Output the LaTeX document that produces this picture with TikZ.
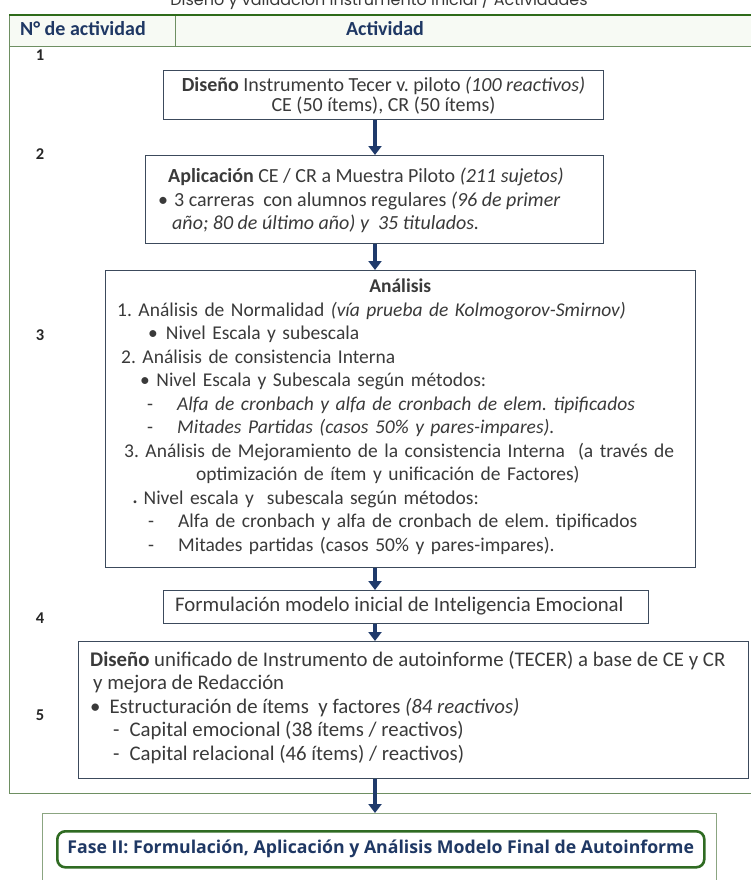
\documentclass[tikz,border=0pt]{standalone}
\usepackage{fontspec}
\setmainfont{Carlito}
\newfontfamily\titlefont{Poppins}
\newfontfamily\fasefont{Open Sans}
\usetikzlibrary{arrows.meta}
\definecolor{txt}{HTML}{3A3A3A}
\definecolor{navy}{HTML}{1F3864}
\definecolor{arrowblue}{HTML}{1F3A6B}
\definecolor{topgreen}{HTML}{2E6B1A}
\definecolor{gridgreen}{HTML}{6E8F62}
\definecolor{boxline}{HTML}{3C4A5C}
\definecolor{headfill}{HTML}{F7FAF4}
\definecolor{fasegreen}{HTML}{2F6B22}
\tikzset{
  box/.style={draw=boxline, line width=1.1pt, fill=white, inner sep=0pt, anchor=north west},
  boxtext/.style={anchor=north west, inner sep=0pt, text=txt, align=left,
    font=\frenchspacing\fontsize{20}{23.5}\selectfont},
  hdr/.style={font=\bfseries\fontsize{20}{22}\selectfont, text=navy, inner sep=0pt},
  num/.style={font=\bfseries\fontsize{16.5}{18}\selectfont, text=black!85, inner sep=0pt, anchor=base},
  flow/.style={draw=arrowblue, line width=3.6pt, -{Triangle[width=13pt,length=9pt]}},
}
\newcommand{\ind}[1]{\hspace*{#1pt}}
\begin{document}
\begin{tikzpicture}[x=1pt,y=-1pt]
\useasboundingbox (0,0) rectangle (751,880);

% title, partly above the page edge
\node[anchor=base, font=\titlefont\fontsize{16}{16}\selectfont, text=black!78, inner sep=0pt]
  (title) at (379,6) {Diseño y validación Instrumento inicial / Actividades};

% table frame
\fill[headfill] (9,15) rectangle (751,46);
\draw[gridgreen, line width=0.9pt] (9,46) -- (751,46);
\draw[gridgreen, line width=0.9pt] (175,15) -- (175,46);
\draw[gridgreen, line width=1pt] (9,15) -- (9,793) -- (751,793);
\draw[topgreen, line width=2.6pt] (9,15) -- (751,15);

\node[hdr, anchor=base west] (hnum) at (20,36) {N° de actividad};
\node[hdr, anchor=base] (hact) at (385,36) {Actividad};

% activity numbers
\node[num] (n1) at (40,61) {1};
\node[num] (n2) at (40,159) {2};
\node[num] (n3) at (40,340) {3};
\node[num] (n4) at (40,623) {4};
\node[num] (n5) at (40,720) {5};

% boxes
\node[box, minimum width=440pt, minimum height=49pt] (b1) at (163,70) {};
\node[box, minimum width=458pt, minimum height=88pt] (b2) at (145,155) {};
\node[box, minimum width=590pt, minimum height=297pt] (b3) at (105,270) {};
\node[box, minimum width=485pt, minimum height=33pt] (b4) at (163,590) {};
\node[box, minimum width=670pt, minimum height=137pt] (b5) at (78,641) {};

% box texts
\node[boxtext, anchor=north, align=center, font=\frenchspacing\fontsize{20}{20}\selectfont] (t1) at (b1.north) [yshift=-7pt]
  {\textbf{Diseño} Instrumento Tecer v. piloto \textit{(100 reactivos)}\\
   CE (50 ítems), CR (50 ítems)};

\node[boxtext] (t2) at (158,168)
  {\ind{10}\textbf{Aplicación} CE / CR a Muestra Piloto \textit{(211 sujetos)}\\
   •\ind{6}3 carreras \ con alumnos regulares \textit{(96 de primer}\\
   \ind{14}\textit{año; 80 de último año) y \ 35 titulados.}};

\node[boxtext, text width=590pt, font=\frenchspacing\fontsize{19.5}{23.5}\selectfont] (t3) at (105,279)
  {\makebox[\linewidth]{\textbf{Análisis}}\\
   \ind{12}1. Análisis de Normalidad \textit{(vía prueba de Kolmogorov-Smirnov)}\\
   \ind{43}•\ind{8}Nivel Escala y subescala\\
   \ind{16}2. Análisis de consistencia Interna\\
   \ind{35}• Nivel Escala y Subescala según métodos:\\
   \ind{42}-\ind{24}\textit{Alfa de cronbach y alfa de cronbach de elem. tipificados}\\
   \ind{42}-\ind{24}\textit{Mitades Partidas (casos 50\% y pares-impares).}\\
   \ind{19}3. Análisis de Mejoramiento de la consistencia Interna \ (a través de\\
   \ind{91}optimización de ítem y unificación de Factores)\\
   \ind{28}{\footnotesize•} Nivel escala y \ subescala según métodos:\\
   \ind{43}-\ind{24}Alfa de cronbach y alfa de cronbach de elem. tipificados\\
   \ind{43}-\ind{24}Mitades partidas (casos 50\% y pares-impares).};

\node[boxtext, anchor=west, font=\frenchspacing\fontsize{20.8}{23.5}\selectfont] (t4) at (175,606.5)
  {Formulación modelo inicial de Inteligencia Emocional};

\node[boxtext, font=\frenchspacing\fontsize{20.8}{23.5}\selectfont] (t5) at (90,651)
  {\textbf{Diseño} unificado de Instrumento de autoinforme (TECER) a base de CE y CR\\
   \ind{3}y mejora de Redacción\\
   •\ind{9}Estructuración de ítems \ y factores \textit{(84 reactivos)}\\
   \ind{23}-\ind{10}Capital emocional (38 ítems / reactivos)\\
   \ind{23}-\ind{10}Capital relacional (46 ítems) / reactivos)};

% phase II
\node[draw=gridgreen!80, line width=0.9pt, fill=white, anchor=north west, inner sep=0pt,
  minimum width=674pt, minimum height=80pt] (fase) at (42,813) {};
\node[draw=fasegreen, line width=2.6pt, rounded corners=8pt, anchor=north west, inner sep=0pt,
  minimum width=647pt, minimum height=36pt] (fasein) at (56,830) {};
\node[font=\fasefont\bfseries\fontsize{17.7}{20}\selectfont, text=navy, inner sep=0pt] (fasetxt)
  at (fasein.center) {Fase II: Formulación, Aplicación y Análisis Modelo Final de Autoinforme};

% flow arrows
\coordinate (ax) at (375,0);
\draw[flow] (b1.south -| ax) -- (b2.north -| ax);
\draw[flow] (b2.south -| ax) -- (b3.north -| ax);
\draw[flow] (b3.south -| ax) -- (b4.north -| ax);
\draw[flow] (b4.south -| ax) -- (b5.north -| ax);
\draw[flow] (b5.south -| ax) -- (fase.north -| ax);
\end{tikzpicture}
\end{document}
